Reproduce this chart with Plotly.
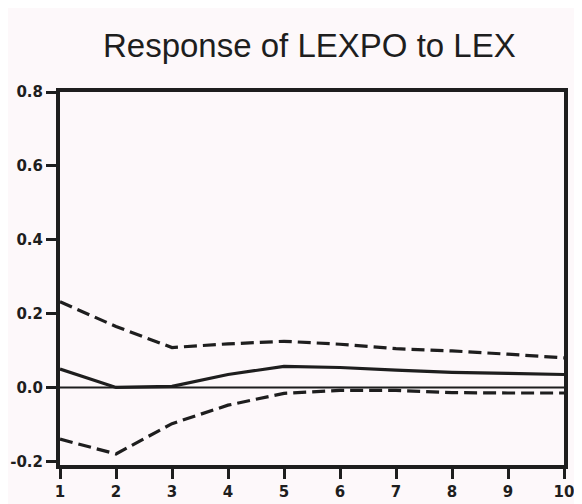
import plotly.graph_objects as go

periods = [1, 2, 3, 4, 5, 6, 7, 8, 9, 10]
response = [0.05, 0.0, 0.003, 0.035, 0.057, 0.054, 0.047, 0.041, 0.038, 0.035]
upper = [0.232, 0.165, 0.108, 0.118, 0.125, 0.117, 0.105, 0.099, 0.09, 0.08]
lower = [-0.14, -0.18, -0.098, -0.048, -0.016, -0.008, -0.008, -0.014, -0.015, -0.015]
y_ticks = [-0.2, 0.0, 0.2, 0.4, 0.6, 0.8]
y_tick_text = ["-0.2", "0.0", "0.2", "0.4", "0.6", "0.8"]

ink = "#1e1e1e"
fig = go.Figure()
fig.add_trace(go.Scatter(x=periods, y=upper, mode="lines",
                         line=dict(color=ink, width=3.2, dash="13px,6px")))
fig.add_trace(go.Scatter(x=periods, y=lower, mode="lines",
                         line=dict(color=ink, width=3.2, dash="13px,6px")))
fig.add_trace(go.Scatter(x=periods, y=response, mode="lines",
                         line=dict(color=ink, width=3.2)))
fig.add_hline(y=0, line=dict(color=ink, width=2))

fig.update_layout(
    width=574, height=496,
    margin=dict(l=52, r=18, t=84, b=39),
    paper_bgcolor="#fdf8fa", plot_bgcolor="#fdf8fa",
    showlegend=False,
    title=dict(text="Response of LEXPO to LEX", x=0.525, xanchor="center", y=0.925, yanchor="middle",
               font=dict(family="Liberation Sans, Arial", size=33, color=ink)),
    font=dict(family="DejaVu Sans", size=12, color=ink),
)
fig.update_xaxes(range=[1, 10], tickvals=periods, ticks="outside", ticklen=10, tickwidth=3,
                 tickcolor=ink, showgrid=False, zeroline=False, showline=True, linewidth=4,
                 linecolor=ink, mirror=True, automargin=False,
                 tickfont=dict(size=15, family="DejaVu Sans", weight="bold"))
fig.update_yaxes(range=[-0.21, 0.8], tickvals=y_ticks, ticktext=y_tick_text, ticks="outside",
                 ticklen=10, tickwidth=3, tickcolor=ink, showgrid=False, zeroline=False,
                 showline=True, linewidth=4, linecolor=ink, mirror=True, automargin=False,
                 tickfont=dict(size=15, family="DejaVu Sans", weight="bold"))

fig.write_html("out.html")
